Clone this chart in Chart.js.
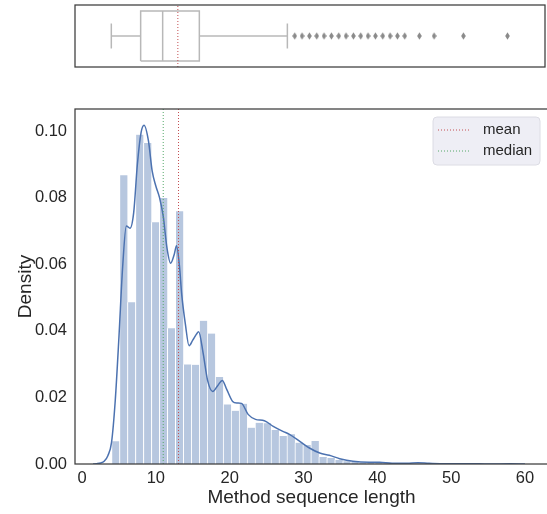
<!DOCTYPE html>
<html>
<head>
<meta charset="utf-8">
<script src="https://cdn.jsdelivr.net/npm/chart.js"></script>
<style>
  html, body { margin: 0; padding: 0; background: #fff; overflow: hidden; }
  #wrap { position: relative; width: 547px; height: 514px; overflow: hidden; }
  #boxChart { position: absolute; left: 0; top: 0; }
  #histChart { position: absolute; left: 0; top: 80px; }
</style>
</head>
<body>
<div id="wrap">
  <canvas id="boxChart" width="550" height="74"></canvas>
  <canvas id="histChart" width="550" height="434"></canvas>
</div>
<script>
// --- data ---
const binCenters = [4.54, 5.62, 6.70, 7.78, 8.86, 9.94, 11.02, 12.10, 13.18, 14.26,
  15.34, 16.42, 17.50, 18.58, 19.66, 20.74, 21.82, 22.90, 23.98, 25.06,
  26.14, 27.22, 28.30, 29.38, 30.46, 31.54, 32.62, 33.70, 34.78, 35.86,
  36.94, 38.02, 39.10, 40.18, 41.26, 42.34, 43.42, 44.50, 45.58, 46.66,
  47.74, 48.82, 49.90, 50.98, 52.06, 53.14, 54.22, 55.30, 56.38, 57.46];
const binDensity = [0.0068, 0.0867, 0.0486, 0.0989, 0.0964, 0.0726, 0.0799, 0.0408, 0.0759, 0.0299,
  0.0298, 0.0430, 0.0392, 0.0261, 0.0179, 0.0160, 0.0181, 0.0109, 0.0124, 0.0122,
  0.0102, 0.0084, 0.0089, 0.0064, 0.0057, 0.0069, 0.0021, 0.0018, 0.0012, 0.0008,
  0.0006, 0.0004, 0.0003, 0.0003, 0.0002, 0.0001, 0.0001, 0.0001, 0.0001, 0.0001,
  0.0001, 0.0001, 0, 0, 0.00005, 0, 0, 0, 0, 0.00005];

const kdeX = [1.5, 2, 2.5, 3, 3.5, 4, 4.5, 5, 5.5, 6, 6.5, 7, 7.5, 8, 8.4, 9, 9.5, 10, 10.5, 11,
  11.5, 12, 12.5, 12.8, 13.2, 13.5, 14, 14.5, 15, 15.5, 15.8, 16.4, 17, 17.7, 18.4, 19, 19.6, 20.4,
  21, 21.6, 22.5, 23.5, 24.7, 25.9, 27.2, 28.1, 29.5, 30.8, 32.2, 33.5, 34.9, 36.7, 38.9, 40.3,
  42, 44, 45.5, 47, 48.5, 51, 52.5, 55, 58, 60];
const kdeY = [0, 0.0001, 0.0003, 0.0008, 0.0025, 0.0065, 0.019, 0.038, 0.059, 0.0715, 0.0708, 0.0755, 0.090, 0.0995, 0.1017, 0.097, 0.088, 0.0835, 0.080, 0.0744,
  0.065, 0.0603, 0.0630, 0.0655, 0.0594, 0.051, 0.042, 0.0355, 0.0372, 0.039, 0.0397, 0.0334, 0.0252, 0.0218, 0.0236, 0.0251, 0.0224, 0.0188,
  0.0183, 0.0182, 0.0149, 0.0134, 0.0130, 0.0113, 0.0098, 0.0089, 0.0068, 0.0048, 0.0033, 0.0026, 0.0016, 0.0008, 0.0005, 0.0005,
  0.0002, 0.0002, 0.0004, 0.0002, 0.0001, 0.0001, 0.0001, 0, 0.00005, 0];

const quartiles = [8, 11, 16];        // q1, median, q3
const whiskers = [4, 28];
const outliers = [29, 30, 31, 32, 33, 34, 35, 36, 37, 38, 39, 40, 41, 42, 43, 44, 46, 48, 52, 58];
const meanValue = 13.07;
const medianValue = 11;
const xTicks = [0, 10, 20, 30, 40, 50, 60];
const yTicks = [0, 0.02, 0.04, 0.06, 0.08, 0.10];

// --- look ---
const FONT = '"Liberation Sans", Arial, sans-serif';
const INK = '#262626';
const X_MIN = -0.95, X_MAX = 63.12, Y_MAX = 0.1066;
const MEAN_COLOR = '#c44e52', MEDIAN_COLOR = '#55a868', BLUE = '#4c72b0';
const BOX_GREY = '#b8b8b8';

const framePlugin = {
  id: 'frame',
  afterDatasetsDraw(chart) {
    const { ctx, chartArea: a } = chart;
    ctx.save();
    ctx.strokeStyle = '#3c3c3c';
    ctx.lineWidth = 1.25;
    ctx.strokeRect(a.left, a.top, a.right - a.left, a.bottom - a.top);
    ctx.restore();
  }
};

// legend in a rounded box at the top-right corner of the plot
const cornerLegend = {
  id: 'cornerLegend',
  afterDraw(chart) {
    const { ctx, chartArea: a } = chart;
    const items = chart.data.datasets.filter(d => d.inLegend);
    const w = 107, h = 48;
    const x = a.right - 8 - w, y = a.top + 8, r = 4;
    ctx.save();
    ctx.beginPath();
    ctx.moveTo(x + r, y);
    ctx.arcTo(x + w, y, x + w, y + h, r);
    ctx.arcTo(x + w, y + h, x, y + h, r);
    ctx.arcTo(x, y + h, x, y, r);
    ctx.arcTo(x, y, x + w, y, r);
    ctx.closePath();
    ctx.fillStyle = 'rgba(234,234,242,0.8)';
    ctx.fill();
    ctx.strokeStyle = '#dcdce4';
    ctx.lineWidth = 1;
    ctx.stroke();
    ctx.font = '15px ' + FONT;
    ctx.textBaseline = 'middle';
    items.forEach((d, i) => {
      const cy = y + 13 + i * 21;
      ctx.strokeStyle = d.borderColor;
      ctx.lineWidth = 1;
      ctx.setLineDash(d.borderDash);
      ctx.beginPath();
      ctx.moveTo(x + 5, cy);
      ctx.lineTo(x + 38, cy);
      ctx.stroke();
      ctx.setLineDash([]);
      ctx.fillStyle = INK;
      ctx.fillText(d.label, x + 50, cy);
    });
    ctx.restore();
  }
};

const dotted = { borderWidth: 1, borderDash: [1, 2], pointRadius: 0 };

new Chart(document.getElementById('histChart'), {
  type: 'bar',
  data: {
    datasets: [
      { type: 'line', label: 'mean', inLegend: true, data: [{ x: meanValue, y: 0 }, { x: meanValue, y: Y_MAX }],
        borderColor: MEAN_COLOR, ...dotted },
      { type: 'line', label: 'median', inLegend: true, data: [{ x: medianValue, y: 0 }, { x: medianValue, y: Y_MAX }],
        borderColor: MEDIAN_COLOR, ...dotted },
      { type: 'line', label: 'kde', data: kdeX.map((x, i) => ({ x, y: kdeY[i] })),
        borderColor: BLUE, borderWidth: 1.5, pointRadius: 0, cubicInterpolationMode: 'monotone' },
      { type: 'bar', label: 'hist', data: binCenters.map((x, i) => ({ x, y: binDensity[i] })),
        backgroundColor: 'rgba(76,114,176,0.4)', borderColor: '#ffffff',
        borderWidth: { left: 1, right: 0, top: 0, bottom: 0 }, borderSkipped: false,
        barPercentage: 1, categoryPercentage: 1 }
    ]
  },
  options: {
    responsive: false, animation: false, devicePixelRatio: 1,
    layout: { padding: { top: 29, right: 2, left: 0, bottom: 0 } },
    plugins: { legend: { display: false }, tooltip: { enabled: false } },
    scales: {
      x: {
        type: 'linear', min: X_MIN, max: X_MAX, offset: false,
        grid: { display: false, drawTicks: false }, border: { display: false },
        afterBuildTicks: s => { s.ticks = xTicks.map(v => ({ value: v })); },
        ticks: { color: INK, font: { family: FONT, size: 16.5 }, padding: 5, maxRotation: 0, callback: v => String(v) },
        title: { display: true, text: 'Method sequence length', color: INK, font: { family: FONT, size: 19 }, padding: { top: 0, bottom: 5 } },
        afterFit: s => { s.height = 50; }
      },
      y: {
        type: 'linear', min: 0, max: Y_MAX,
        grid: { display: false, drawTicks: false }, border: { display: false },
        afterBuildTicks: s => { s.ticks = yTicks.map(v => ({ value: v })); },
        ticks: { color: INK, font: { family: FONT, size: 16.5 }, padding: 8, callback: v => v.toFixed(2) },
        title: { display: true, text: 'Density', color: INK, font: { family: FONT, size: 19 }, padding: { top: 14, bottom: 0 } },
        afterFit: s => { s.width = 75; }
      }
    }
  },
  plugins: [framePlugin, cornerLegend]
});

// thin diamond marker for the outliers
const diamond = document.createElement('canvas');
diamond.width = 5; diamond.height = 8;
(() => {
  const c = diamond.getContext('2d');
  c.fillStyle = '#8a8a8a';
  c.beginPath();
  c.moveTo(2.5, 0.3); c.lineTo(4.8, 4); c.lineTo(2.5, 7.7); c.lineTo(0.2, 4);
  c.closePath(); c.fill();
})();

const boxLine = { borderColor: BOX_GREY, borderWidth: 1.5, pointRadius: 0 };
const [q1, med, q3] = quartiles;

new Chart(document.getElementById('boxChart'), {
  type: 'line',
  data: {
    datasets: [
      { label: 'mean', data: [{ x: meanValue, y: -0.62 }, { x: meanValue, y: 0.62 }], borderColor: MEAN_COLOR, ...dotted },
      { label: 'box', data: [{ x: q1, y: -0.5 }, { x: q3, y: -0.5 }, { x: q3, y: 0.5 }, { x: q1, y: 0.5 }, { x: q1, y: -0.5 }], ...boxLine },
      { label: 'median', data: [{ x: med, y: -0.5 }, { x: med, y: 0.5 }], ...boxLine },
      { label: 'lower whisker', data: [{ x: whiskers[0], y: 0 }, { x: q1, y: 0 }], ...boxLine },
      { label: 'upper whisker', data: [{ x: q3, y: 0 }, { x: whiskers[1], y: 0 }], ...boxLine },
      { label: 'lower cap', data: [{ x: whiskers[0], y: -0.25 }, { x: whiskers[0], y: 0.25 }], ...boxLine },
      { label: 'upper cap', data: [{ x: whiskers[1], y: -0.25 }, { x: whiskers[1], y: 0.25 }], ...boxLine },
      { type: 'scatter', label: 'outliers', data: outliers.map(v => ({ x: v, y: 0 })), pointStyle: diamond, pointRadius: 3 }
    ]
  },
  options: {
    responsive: false, animation: false, devicePixelRatio: 1,
    layout: { padding: { top: 5, right: 2, left: 75, bottom: 7 } },
    plugins: { legend: { display: false }, tooltip: { enabled: false } },
    scales: {
      x: { type: 'linear', min: X_MIN, max: X_MAX, display: false },
      y: { type: 'linear', min: -0.62, max: 0.62, display: false }
    }
  },
  plugins: [framePlugin]
});
</script>
</body>
</html>
